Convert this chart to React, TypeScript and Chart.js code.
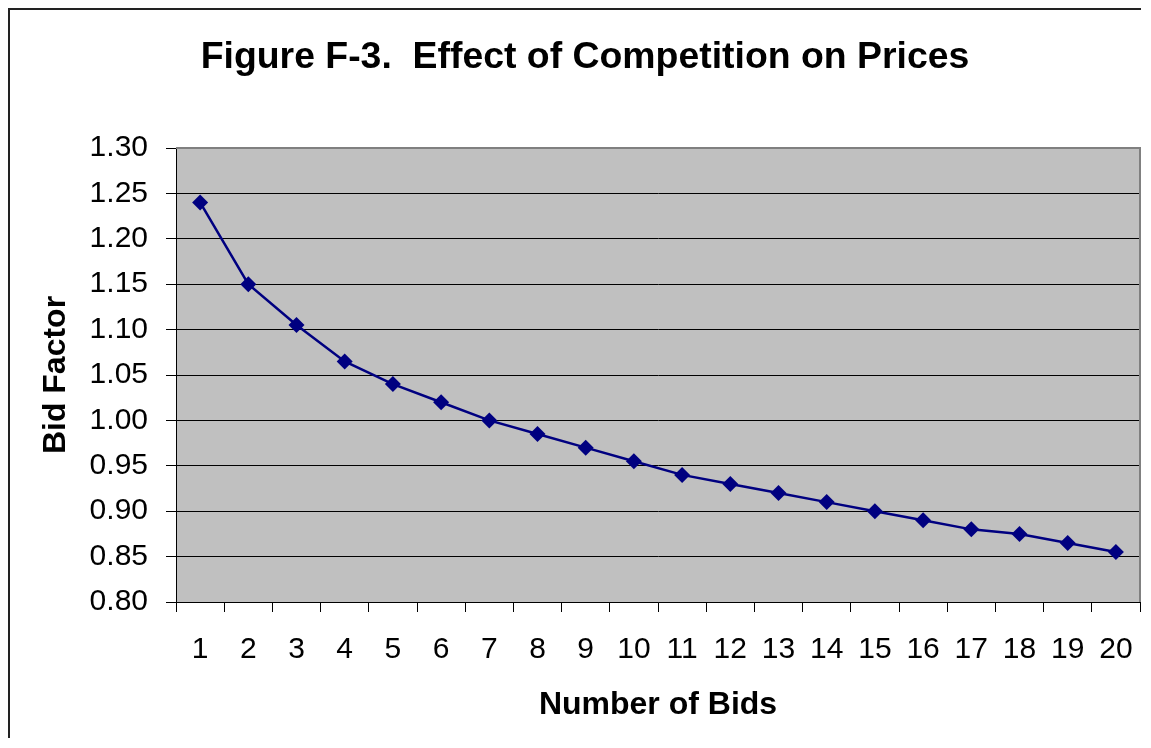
import React, { useEffect, useRef } from "react";
import { Chart, registerables } from "chart.js";

Chart.register(...registerables);

const categories = ["1", "2", "3", "4", "5", "6", "7", "8", "9", "10", "11", "12", "13", "14", "15", "16", "17", "18", "19", "20"];
const bidFactor = [1.24, 1.15, 1.105, 1.065, 1.04, 1.02, 1.0, 0.985, 0.97, 0.955, 0.94, 0.93, 0.92, 0.91, 0.9, 0.89, 0.88, 0.875, 0.865, 0.855];
const yMin = 0.8;
const yMax = 1.3;
const yStep = 0.05;
const titleText = "Figure F-3.  Effect of Competition on Prices";
const xTitle = "Number of Bids";
const yTitle = "Bid Factor";

const FONT = "'Liberation Sans', Arial, Helvetica, sans-serif";
const W = 1131;
const H = 728;

const plotBg = {
  id: "plotBg",
  beforeDraw(chart: any) {
    const { ctx, chartArea } = chart;
    ctx.save();
    ctx.fillStyle = "#C0C0C0";
    ctx.fillRect(chartArea.left, chartArea.top, chartArea.right - chartArea.left, chartArea.bottom - chartArea.top);
    ctx.restore();
  },
  beforeDatasetsDraw(chart: any) {
    const { ctx, chartArea } = chart;
    ctx.save();
    ctx.strokeStyle = "#808080";
    ctx.lineWidth = 2;
    ctx.beginPath();
    ctx.moveTo(chartArea.left, chartArea.top);
    ctx.lineTo(chartArea.right, chartArea.top);
    ctx.lineTo(chartArea.right, chartArea.bottom);
    ctx.stroke();
    ctx.restore();
  },
  afterDraw(chart: any) {
    const { ctx } = chart;
    ctx.save();
    ctx.fillStyle = "#000";
    ctx.font = `bold 37.4px ${FONT}`;
    ctx.textAlign = "center";
    ctx.textBaseline = "alphabetic";
    ctx.fillText(titleText, 575, 57.5);
    ctx.restore();
  },
};

export default function App() {
  const ref = useRef<HTMLCanvasElement | null>(null);
  useEffect(() => {
    document.body.style.overflow = "hidden";
    const canvas = ref.current;
    if (!canvas) return;
    const chart = new Chart(canvas, {
      type: "line",
      data: {
        labels: categories,
        datasets: [
          {
            data: bidFactor,
            borderColor: "#000080",
            backgroundColor: "#000080",
            borderWidth: 2.5,
            pointStyle: "rectRot",
            pointRadius: 8,
            pointBorderWidth: 0,
            pointBackgroundColor: "#000080",
            tension: 0,
          },
        ],
      },
      options: {
        responsive: false,
        animation: false,
        devicePixelRatio: 1,
        layout: { autoPadding: false, padding: { left: 0, right: 1, top: 138, bottom: 0 } },
        plugins: {
          legend: { display: false },
          tooltip: { enabled: false },
          title: { display: false },
        },
        scales: {
          x: {
            type: "category",
            offset: true,
            afterFit: (axis: any) => {
              axis.height = 136;
              axis.paddingLeft = 0;
              axis.paddingRight = 0;
            },
            grid: {
              offset: true,
              drawOnChartArea: false,
              drawTicks: true,
              tickLength: 10,
              color: "#000",
              lineWidth: 1,
            },
            border: { display: true, color: "#000", width: 1 },
            ticks: {
              color: "#000",
              font: { family: FONT, size: 30 },
              padding: 20,
              maxRotation: 0,
              autoSkip: false,
            },
            title: {
              display: true,
              text: xTitle,
              color: "#000",
              font: { family: FONT, size: 32, weight: "bold" },
              padding: { top: 0, bottom: 14 },
            },
          },
          y: {
            min: yMin,
            max: yMax,
            afterFit: (axis: any) => {
              axis.width = 166;
            },
            grid: {
              color: "#000",
              lineWidth: 1,
              drawTicks: true,
              tickLength: 10,
            },
            border: { display: true, color: "#000", width: 1 },
            ticks: {
              stepSize: yStep,
              color: "#000",
              font: { family: FONT, size: 30 },
              padding: 18,
              callback: (v: any) => Number(v).toFixed(2),
            },
            title: {
              display: true,
              text: yTitle,
              color: "#000",
              font: { family: FONT, size: 32, weight: "bold" },
              padding: { top: 27, bottom: 0 },
            },
          },
        },
      },
      plugins: [plotBg],
    });
    return () => chart.destroy();
  }, []);

  return (
    <div
      style={{
        width: W,
        height: H,
        borderTop: "2px solid #222",
        borderLeft: "2px solid #222",
        background: "#fff",
      }}
    >
      <canvas ref={ref} width={W} height={H} style={{ display: "block", width: W, height: H }} />
    </div>
  );
}
